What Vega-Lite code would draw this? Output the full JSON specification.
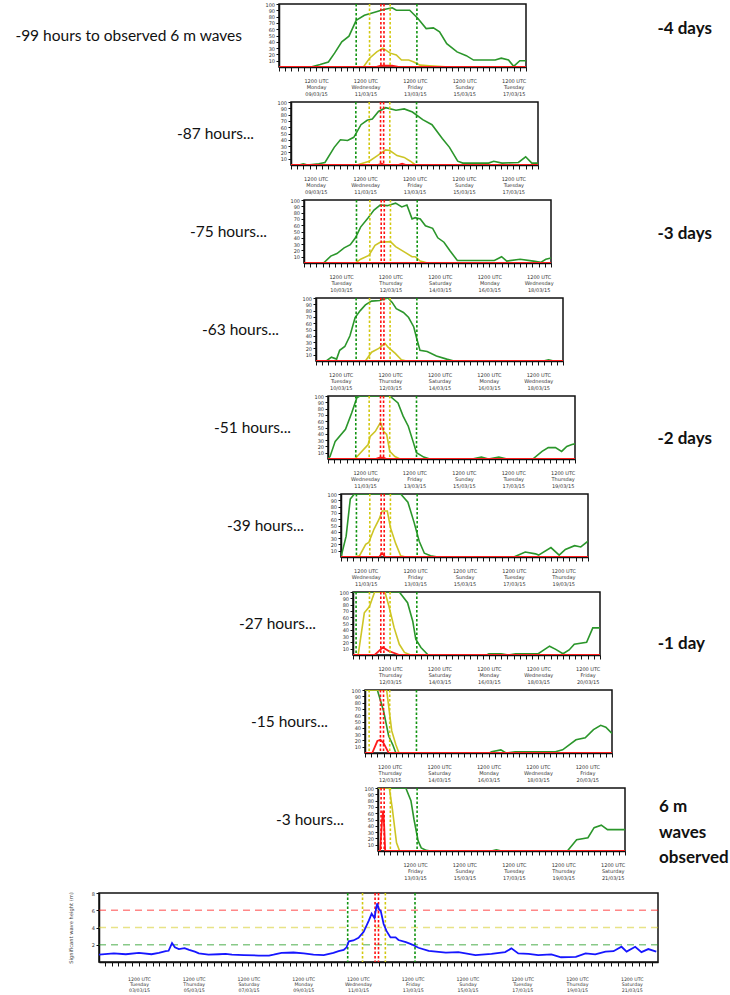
{
"$schema": "https://vega.github.io/schema/vega-lite/v6.json",
"padding": {"left": 0, "top": 1, "right": 0, "bottom": 0},
"background": "white",
"spacing": 1,
"config": {
 "view": {"stroke": "#111", "strokeWidth": 1.5},
 "axis": {"labelFont": "DejaVu Sans", "labelFontSize": 5, "labelColor": "#333", "tickColor": "#111", "domainColor": "#111", "domainWidth": 1.5, "tickWidth": 1, "grid": false, "titleFont": "DejaVu Sans", "labelOverlap": false},
 "axisX": {"tickSize": 4, "labelPadding": 7, "labelLineHeight": 6.8, "labelFlush": false, "labelAngle": 0},
 "axisY": {"tickSize": 3, "labelPadding": 1.5, "labelOverlap": false},
 "text": {"font": "Lato"}
},
"datasets": {
 "thr": [{"s":"g","t":"2015-03-11T03:00Z"},{"s":"y","t":"2015-03-11T16:00Z"},{"s":"r","t":"2015-03-12T03:00Z"},{"s":"r","t":"2015-03-12T06:00Z"},{"s":"y","t":"2015-03-12T12:00Z"},{"s":"g","t":"2015-03-13T14:00Z"}],
 "hl": [{"s":"g","v":2},{"s":"y","v":4},{"s":"r","v":6}],
 "p1": [
  {"s":"g","t":"2015-03-09T07:00Z","v":0},{"s":"g","t":"2015-03-09T16:00Z","v":4},{"s":"g","t":"2015-03-10T00:00Z","v":8},{"s":"g","t":"2015-03-10T06:00Z","v":22},{"s":"g","t":"2015-03-10T13:00Z","v":40},{"s":"g","t":"2015-03-10T20:00Z","v":49},{"s":"g","t":"2015-03-11T03:00Z","v":74},{"s":"g","t":"2015-03-11T11:00Z","v":82},{"s":"g","t":"2015-03-11T21:00Z","v":87},{"s":"g","t":"2015-03-12T05:00Z","v":91},{"s":"g","t":"2015-03-12T14:00Z","v":94},{"s":"g","t":"2015-03-12T18:00Z","v":90},{"s":"g","t":"2015-03-13T07:00Z","v":90},{"s":"g","t":"2015-03-13T15:00Z","v":77},{"s":"g","t":"2015-03-13T23:00Z","v":61},{"s":"g","t":"2015-03-14T06:00Z","v":62},{"s":"g","t":"2015-03-14T12:00Z","v":56},{"s":"g","t":"2015-03-14T19:00Z","v":37},{"s":"g","t":"2015-03-15T05:00Z","v":24},{"s":"g","t":"2015-03-15T14:00Z","v":18},{"s":"g","t":"2015-03-15T21:00Z","v":11},{"s":"g","t":"2015-03-16T18:00Z","v":11},{"s":"g","t":"2015-03-17T00:00Z","v":14},{"s":"g","t":"2015-03-17T07:00Z","v":11},{"s":"g","t":"2015-03-17T12:00Z","v":1},{"s":"g","t":"2015-03-17T18:00Z","v":10},{"s":"g","t":"2015-03-18T00:00Z","v":10},
  {"s":"y","t":"2015-03-11T10:00Z","v":0},{"s":"y","t":"2015-03-11T16:00Z","v":14},{"s":"y","t":"2015-03-11T23:00Z","v":24},{"s":"y","t":"2015-03-12T05:00Z","v":30},{"s":"y","t":"2015-03-12T12:00Z","v":22},{"s":"y","t":"2015-03-12T18:00Z","v":19},{"s":"y","t":"2015-03-12T23:00Z","v":11},{"s":"y","t":"2015-03-13T06:00Z","v":11},{"s":"y","t":"2015-03-13T11:00Z","v":8},{"s":"y","t":"2015-03-13T17:00Z","v":3},{"s":"y","t":"2015-03-14T02:00Z","v":2},{"s":"y","t":"2015-03-14T22:00Z","v":0},
  {"s":"r","t":"2015-03-08T00:00Z","v":0},{"s":"r","t":"2015-03-11T22:00Z","v":0},{"s":"r","t":"2015-03-12T03:00Z","v":2},{"s":"r","t":"2015-03-12T14:00Z","v":2},{"s":"r","t":"2015-03-12T20:00Z","v":0},{"s":"r","t":"2015-03-18T00:00Z","v":0}
 ],
 "p2": [
  {"s":"g","t":"2015-03-08T12:00Z","v":0},{"s":"g","t":"2015-03-08T20:00Z","v":0},{"s":"g","t":"2015-03-09T00:00Z","v":2},{"s":"g","t":"2015-03-09T04:00Z","v":0},{"s":"g","t":"2015-03-09T15:00Z","v":2},{"s":"g","t":"2015-03-09T21:00Z","v":4},{"s":"g","t":"2015-03-10T06:00Z","v":28},{"s":"g","t":"2015-03-10T12:00Z","v":40},{"s":"g","t":"2015-03-10T19:00Z","v":39},{"s":"g","t":"2015-03-11T01:00Z","v":44},{"s":"g","t":"2015-03-11T08:00Z","v":64},{"s":"g","t":"2015-03-11T14:00Z","v":71},{"s":"g","t":"2015-03-11T19:00Z","v":73},{"s":"g","t":"2015-03-12T01:00Z","v":85},{"s":"g","t":"2015-03-12T08:00Z","v":91},{"s":"g","t":"2015-03-12T18:00Z","v":87},{"s":"g","t":"2015-03-13T02:00Z","v":89},{"s":"g","t":"2015-03-13T10:00Z","v":84},{"s":"g","t":"2015-03-13T20:00Z","v":72},{"s":"g","t":"2015-03-14T05:00Z","v":64},{"s":"g","t":"2015-03-14T15:00Z","v":42},{"s":"g","t":"2015-03-14T22:00Z","v":28},{"s":"g","t":"2015-03-15T06:00Z","v":6},{"s":"g","t":"2015-03-15T11:00Z","v":3},{"s":"g","t":"2015-03-16T12:00Z","v":3},{"s":"g","t":"2015-03-16T17:00Z","v":6},{"s":"g","t":"2015-03-17T01:00Z","v":3},{"s":"g","t":"2015-03-17T17:00Z","v":4},{"s":"g","t":"2015-03-18T00:00Z","v":13},{"s":"g","t":"2015-03-18T06:00Z","v":3},{"s":"g","t":"2015-03-18T12:00Z","v":3},
  {"s":"y","t":"2015-03-11T04:00Z","v":0},{"s":"y","t":"2015-03-11T16:00Z","v":6},{"s":"y","t":"2015-03-12T00:00Z","v":15},{"s":"y","t":"2015-03-12T08:00Z","v":24},{"s":"y","t":"2015-03-12T12:00Z","v":23},{"s":"y","t":"2015-03-12T19:00Z","v":15},{"s":"y","t":"2015-03-13T02:00Z","v":12},{"s":"y","t":"2015-03-13T08:00Z","v":6},{"s":"y","t":"2015-03-13T13:00Z","v":0},
  {"s":"r","t":"2015-03-08T12:00Z","v":0},{"s":"r","t":"2015-03-12T00:00Z","v":0},{"s":"r","t":"2015-03-12T04:00Z","v":2},{"s":"r","t":"2015-03-12T08:00Z","v":0},{"s":"r","t":"2015-03-12T20:00Z","v":0},{"s":"r","t":"2015-03-13T00:00Z","v":2},{"s":"r","t":"2015-03-13T04:00Z","v":0},{"s":"r","t":"2015-03-18T12:00Z","v":0}
 ],
 "p3": [
  {"s":"g","t":"2015-03-09T19:00Z","v":0},{"s":"g","t":"2015-03-10T02:00Z","v":11},{"s":"g","t":"2015-03-10T08:00Z","v":15},{"s":"g","t":"2015-03-10T15:00Z","v":24},{"s":"g","t":"2015-03-10T21:00Z","v":29},{"s":"g","t":"2015-03-11T02:00Z","v":40},{"s":"g","t":"2015-03-11T07:00Z","v":57},{"s":"g","t":"2015-03-11T14:00Z","v":71},{"s":"g","t":"2015-03-11T20:00Z","v":84},{"s":"g","t":"2015-03-12T02:00Z","v":92},{"s":"g","t":"2015-03-12T09:00Z","v":91},{"s":"g","t":"2015-03-12T17:00Z","v":95},{"s":"g","t":"2015-03-12T23:00Z","v":89},{"s":"g","t":"2015-03-13T04:00Z","v":92},{"s":"g","t":"2015-03-13T09:00Z","v":70},{"s":"g","t":"2015-03-13T12:00Z","v":72},{"s":"g","t":"2015-03-13T17:00Z","v":70},{"s":"g","t":"2015-03-13T22:00Z","v":59},{"s":"g","t":"2015-03-14T05:00Z","v":55},{"s":"g","t":"2015-03-14T10:00Z","v":40},{"s":"g","t":"2015-03-14T16:00Z","v":33},{"s":"g","t":"2015-03-14T22:00Z","v":19},{"s":"g","t":"2015-03-15T05:00Z","v":4},{"s":"g","t":"2015-03-16T17:00Z","v":4},{"s":"g","t":"2015-03-17T00:00Z","v":10},{"s":"g","t":"2015-03-17T05:00Z","v":3},{"s":"g","t":"2015-03-17T18:00Z","v":6},{"s":"g","t":"2015-03-18T07:00Z","v":3},{"s":"g","t":"2015-03-18T14:00Z","v":1},{"s":"g","t":"2015-03-18T19:00Z","v":6},{"s":"g","t":"2015-03-19T00:00Z","v":8},
  {"s":"y","t":"2015-03-11T02:00Z","v":0},{"s":"y","t":"2015-03-11T07:00Z","v":6},{"s":"y","t":"2015-03-11T15:00Z","v":12},{"s":"y","t":"2015-03-11T21:00Z","v":28},{"s":"y","t":"2015-03-12T02:00Z","v":33},{"s":"y","t":"2015-03-12T12:00Z","v":34},{"s":"y","t":"2015-03-12T17:00Z","v":26},{"s":"y","t":"2015-03-13T03:00Z","v":16},{"s":"y","t":"2015-03-13T09:00Z","v":10},{"s":"y","t":"2015-03-13T12:00Z","v":10},{"s":"y","t":"2015-03-13T17:00Z","v":3},{"s":"y","t":"2015-03-14T00:00Z","v":0},
  {"s":"r","t":"2015-03-09T00:00Z","v":0},{"s":"r","t":"2015-03-19T00:00Z","v":0}
 ],
 "p4": [
  {"s":"g","t":"2015-03-09T22:00Z","v":0},{"s":"g","t":"2015-03-10T03:00Z","v":6},{"s":"g","t":"2015-03-10T08:00Z","v":3},{"s":"g","t":"2015-03-10T11:00Z","v":17},{"s":"g","t":"2015-03-10T16:00Z","v":23},{"s":"g","t":"2015-03-10T21:00Z","v":40},{"s":"g","t":"2015-03-11T02:00Z","v":69},{"s":"g","t":"2015-03-11T07:00Z","v":80},{"s":"g","t":"2015-03-11T12:00Z","v":89},{"s":"g","t":"2015-03-11T18:00Z","v":95},{"s":"g","t":"2015-03-12T02:00Z","v":96},{"s":"g","t":"2015-03-12T07:00Z","v":99},{"s":"g","t":"2015-03-12T10:00Z","v":100},{"s":"g","t":"2015-03-12T14:00Z","v":93},{"s":"g","t":"2015-03-12T18:00Z","v":83},{"s":"g","t":"2015-03-13T01:00Z","v":77},{"s":"g","t":"2015-03-13T06:00Z","v":69},{"s":"g","t":"2015-03-13T11:00Z","v":54},{"s":"g","t":"2015-03-13T14:00Z","v":35},{"s":"g","t":"2015-03-13T17:00Z","v":17},{"s":"g","t":"2015-03-14T00:00Z","v":15},{"s":"g","t":"2015-03-14T09:00Z","v":8},{"s":"g","t":"2015-03-14T19:00Z","v":3},{"s":"g","t":"2015-03-15T02:00Z","v":0},{"s":"g","t":"2015-03-18T17:00Z","v":0},{"s":"g","t":"2015-03-18T22:00Z","v":2},{"s":"g","t":"2015-03-19T03:00Z","v":0},
  {"s":"y","t":"2015-03-11T12:00Z","v":0},{"s":"y","t":"2015-03-11T18:00Z","v":14},{"s":"y","t":"2015-03-12T01:00Z","v":20},{"s":"y","t":"2015-03-12T07:00Z","v":28},{"s":"y","t":"2015-03-12T10:00Z","v":22},{"s":"y","t":"2015-03-12T17:00Z","v":12},{"s":"y","t":"2015-03-12T23:00Z","v":2},{"s":"y","t":"2015-03-13T04:00Z","v":0},
  {"s":"r","t":"2015-03-09T12:00Z","v":0},{"s":"r","t":"2015-03-19T12:00Z","v":0}
 ],
 "p5": [
  {"s":"g","t":"2015-03-10T00:00Z","v":0},{"s":"g","t":"2015-03-10T02:00Z","v":4},{"s":"g","t":"2015-03-10T07:00Z","v":28},{"s":"g","t":"2015-03-10T17:00Z","v":47},{"s":"g","t":"2015-03-10T23:00Z","v":73},{"s":"g","t":"2015-03-11T04:00Z","v":97},{"s":"g","t":"2015-03-11T07:00Z","v":100},{"s":"g","t":"2015-03-12T12:00Z","v":100},{"s":"g","t":"2015-03-12T20:00Z","v":89},{"s":"g","t":"2015-03-13T01:00Z","v":68},{"s":"g","t":"2015-03-13T06:00Z","v":52},{"s":"g","t":"2015-03-13T11:00Z","v":26},{"s":"g","t":"2015-03-13T14:00Z","v":10},{"s":"g","t":"2015-03-13T21:00Z","v":3},{"s":"g","t":"2015-03-14T03:00Z","v":0},{"s":"g","t":"2015-03-15T20:00Z","v":0},{"s":"g","t":"2015-03-16T05:00Z","v":3},{"s":"g","t":"2015-03-16T12:00Z","v":0},{"s":"g","t":"2015-03-16T22:00Z","v":3},{"s":"g","t":"2015-03-17T06:00Z","v":0},{"s":"g","t":"2015-03-18T07:00Z","v":0},{"s":"g","t":"2015-03-18T16:00Z","v":12},{"s":"g","t":"2015-03-18T22:00Z","v":18},{"s":"g","t":"2015-03-19T05:00Z","v":18},{"s":"g","t":"2015-03-19T11:00Z","v":12},{"s":"g","t":"2015-03-19T16:00Z","v":20},{"s":"g","t":"2015-03-19T21:00Z","v":23},{"s":"g","t":"2015-03-20T00:00Z","v":24},
  {"s":"y","t":"2015-03-11T02:00Z","v":0},{"s":"y","t":"2015-03-11T15:00Z","v":23},{"s":"y","t":"2015-03-11T17:00Z","v":36},{"s":"y","t":"2015-03-11T22:00Z","v":44},{"s":"y","t":"2015-03-12T03:00Z","v":58},{"s":"y","t":"2015-03-12T06:00Z","v":44},{"s":"y","t":"2015-03-12T09:00Z","v":39},{"s":"y","t":"2015-03-12T12:00Z","v":12},{"s":"y","t":"2015-03-12T17:00Z","v":4},{"s":"y","t":"2015-03-12T22:00Z","v":0},
  {"s":"r","t":"2015-03-10T00:00Z","v":0},{"s":"r","t":"2015-03-11T22:00Z","v":0},{"s":"r","t":"2015-03-12T02:00Z","v":2},{"s":"r","t":"2015-03-12T06:00Z","v":2},{"s":"r","t":"2015-03-12T09:00Z","v":0},{"s":"r","t":"2015-03-20T00:00Z","v":0}
 ],
 "p6": [
  {"s":"g","t":"2015-03-10T12:00Z","v":0},{"s":"g","t":"2015-03-10T17:00Z","v":33},{"s":"g","t":"2015-03-10T21:00Z","v":92},{"s":"g","t":"2015-03-11T01:00Z","v":100},{"s":"g","t":"2015-03-12T22:00Z","v":100},{"s":"g","t":"2015-03-13T05:00Z","v":87},{"s":"g","t":"2015-03-13T11:00Z","v":55},{"s":"g","t":"2015-03-13T16:00Z","v":25},{"s":"g","t":"2015-03-13T21:00Z","v":6},{"s":"g","t":"2015-03-14T03:00Z","v":2},{"s":"g","t":"2015-03-14T10:00Z","v":0},{"s":"g","t":"2015-03-17T12:00Z","v":0},{"s":"g","t":"2015-03-17T23:00Z","v":8},{"s":"g","t":"2015-03-18T09:00Z","v":5},{"s":"g","t":"2015-03-18T12:00Z","v":3},{"s":"g","t":"2015-03-19T00:00Z","v":15},{"s":"g","t":"2015-03-19T08:00Z","v":3},{"s":"g","t":"2015-03-19T14:00Z","v":12},{"s":"g","t":"2015-03-19T23:00Z","v":18},{"s":"g","t":"2015-03-20T05:00Z","v":16},{"s":"g","t":"2015-03-20T12:00Z","v":25},
  {"s":"y","t":"2015-03-11T00:00Z","v":0},{"s":"y","t":"2015-03-11T06:00Z","v":2},{"s":"y","t":"2015-03-11T12:00Z","v":20},{"s":"y","t":"2015-03-11T15:00Z","v":23},{"s":"y","t":"2015-03-11T20:00Z","v":44},{"s":"y","t":"2015-03-12T01:00Z","v":60},{"s":"y","t":"2015-03-12T04:00Z","v":73},{"s":"y","t":"2015-03-12T09:00Z","v":73},{"s":"y","t":"2015-03-12T12:00Z","v":47},{"s":"y","t":"2015-03-12T17:00Z","v":22},{"s":"y","t":"2015-03-12T22:00Z","v":2},{"s":"y","t":"2015-03-13T03:00Z","v":0},
  {"s":"r","t":"2015-03-10T12:00Z","v":0},{"s":"r","t":"2015-03-12T01:00Z","v":0},{"s":"r","t":"2015-03-12T04:00Z","v":6},{"s":"r","t":"2015-03-12T07:00Z","v":0},{"s":"r","t":"2015-03-20T12:00Z","v":0}
 ],
 "p7": [
  {"s":"g","t":"2015-03-11T00:00Z","v":100},{"s":"g","t":"2015-03-12T21:00Z","v":100},{"s":"g","t":"2015-03-13T05:00Z","v":83},{"s":"g","t":"2015-03-13T10:00Z","v":54},{"s":"g","t":"2015-03-13T13:00Z","v":25},{"s":"g","t":"2015-03-13T18:00Z","v":12},{"s":"g","t":"2015-03-14T01:00Z","v":0},{"s":"g","t":"2015-03-16T10:00Z","v":0},{"s":"g","t":"2015-03-16T12:00Z","v":2},{"s":"g","t":"2015-03-17T00:00Z","v":2},{"s":"g","t":"2015-03-17T07:00Z","v":0},{"s":"g","t":"2015-03-17T14:00Z","v":2},{"s":"g","t":"2015-03-18T12:00Z","v":2},{"s":"g","t":"2015-03-18T23:00Z","v":14},{"s":"g","t":"2015-03-19T05:00Z","v":9},{"s":"g","t":"2015-03-19T12:00Z","v":2},{"s":"g","t":"2015-03-19T18:00Z","v":8},{"s":"g","t":"2015-03-19T23:00Z","v":17},{"s":"g","t":"2015-03-20T11:00Z","v":20},{"s":"g","t":"2015-03-20T17:00Z","v":43},{"s":"g","t":"2015-03-21T00:00Z","v":43},
  {"s":"y","t":"2015-03-11T05:00Z","v":0},{"s":"y","t":"2015-03-11T11:00Z","v":67},{"s":"y","t":"2015-03-11T16:00Z","v":77},{"s":"y","t":"2015-03-11T21:00Z","v":100},{"s":"y","t":"2015-03-12T07:00Z","v":100},{"s":"y","t":"2015-03-12T11:00Z","v":77},{"s":"y","t":"2015-03-12T16:00Z","v":43},{"s":"y","t":"2015-03-12T21:00Z","v":17},{"s":"y","t":"2015-03-13T02:00Z","v":4},{"s":"y","t":"2015-03-13T08:00Z","v":0},
  {"s":"r","t":"2015-03-11T00:00Z","v":0},{"s":"r","t":"2015-03-11T21:00Z","v":0},{"s":"r","t":"2015-03-12T05:00Z","v":12},{"s":"r","t":"2015-03-12T11:00Z","v":6},{"s":"r","t":"2015-03-12T18:00Z","v":2},{"s":"r","t":"2015-03-12T21:00Z","v":0},{"s":"r","t":"2015-03-21T00:00Z","v":0}
 ],
 "p8": [
  {"s":"g","t":"2015-03-11T12:00Z","v":100},{"s":"g","t":"2015-03-12T00:00Z","v":100},{"s":"g","t":"2015-03-12T06:00Z","v":67},{"s":"g","t":"2015-03-12T11:00Z","v":27},{"s":"g","t":"2015-03-12T15:00Z","v":13},{"s":"g","t":"2015-03-12T18:00Z","v":0},{"s":"g","t":"2015-03-16T13:00Z","v":0},{"s":"g","t":"2015-03-16T15:00Z","v":2},{"s":"g","t":"2015-03-17T00:00Z","v":5},{"s":"g","t":"2015-03-17T05:00Z","v":0},{"s":"g","t":"2015-03-17T14:00Z","v":2},{"s":"g","t":"2015-03-19T05:00Z","v":2},{"s":"g","t":"2015-03-19T12:00Z","v":5},{"s":"g","t":"2015-03-20T01:00Z","v":21},{"s":"g","t":"2015-03-20T10:00Z","v":24},{"s":"g","t":"2015-03-20T18:00Z","v":37},{"s":"g","t":"2015-03-21T01:00Z","v":44},{"s":"g","t":"2015-03-21T06:00Z","v":41},{"s":"g","t":"2015-03-21T12:00Z","v":31},
  {"s":"y","t":"2015-03-11T12:00Z","v":100},{"s":"y","t":"2015-03-12T09:00Z","v":100},{"s":"y","t":"2015-03-12T14:00Z","v":35},{"s":"y","t":"2015-03-12T18:00Z","v":13},{"s":"y","t":"2015-03-12T21:00Z","v":0},
  {"s":"r","t":"2015-03-11T12:00Z","v":0},{"s":"r","t":"2015-03-11T19:00Z","v":0},{"s":"r","t":"2015-03-12T00:00Z","v":19},{"s":"r","t":"2015-03-12T03:00Z","v":21},{"s":"r","t":"2015-03-12T06:00Z","v":16},{"s":"r","t":"2015-03-12T11:00Z","v":0},{"s":"r","t":"2015-03-21T12:00Z","v":0}
 ],
 "p9": [
  {"s":"g","t":"2015-03-12T00:00Z","v":100},{"s":"g","t":"2015-03-13T03:00Z","v":100},{"s":"g","t":"2015-03-13T08:00Z","v":80},{"s":"g","t":"2015-03-13T11:00Z","v":50},{"s":"g","t":"2015-03-13T15:00Z","v":16},{"s":"g","t":"2015-03-13T18:00Z","v":5},{"s":"g","t":"2015-03-13T23:00Z","v":1},{"s":"g","t":"2015-03-14T03:00Z","v":0},{"s":"g","t":"2015-03-16T14:00Z","v":0},{"s":"g","t":"2015-03-16T19:00Z","v":2},{"s":"g","t":"2015-03-17T00:00Z","v":0},{"s":"g","t":"2015-03-19T16:00Z","v":0},{"s":"g","t":"2015-03-20T01:00Z","v":18},{"s":"g","t":"2015-03-20T12:00Z","v":21},{"s":"g","t":"2015-03-20T18:00Z","v":37},{"s":"g","t":"2015-03-21T01:00Z","v":41},{"s":"g","t":"2015-03-21T07:00Z","v":34},{"s":"g","t":"2015-03-22T00:00Z","v":34},
  {"s":"y","t":"2015-03-12T00:00Z","v":100},{"s":"y","t":"2015-03-12T11:00Z","v":100},{"s":"y","t":"2015-03-12T14:00Z","v":66},{"s":"y","t":"2015-03-12T18:00Z","v":13},{"s":"y","t":"2015-03-12T21:00Z","v":0},
  {"s":"r","t":"2015-03-12T00:00Z","v":0},{"s":"r","t":"2015-03-12T02:00Z","v":0},{"s":"r","t":"2015-03-12T04:00Z","v":50},{"s":"r","t":"2015-03-12T05:00Z","v":64},{"s":"r","t":"2015-03-12T06:00Z","v":40},{"s":"r","t":"2015-03-12T07:00Z","v":0},{"s":"r","t":"2015-03-22T00:00Z","v":0}
 ],
 "wave": [
  {"t":"2015-03-02T00:00Z","v":0.85},{"t":"2015-03-02T14:00Z","v":1.0},{"t":"2015-03-03T00:30Z","v":0.9},{"t":"2015-03-03T12:00Z","v":1.05},{"t":"2015-03-03T23:00Z","v":0.9},{"t":"2015-03-04T05:30Z","v":1.05},{"t":"2015-03-04T11:30Z","v":1.25},{"t":"2015-03-04T14:00Z","v":1.3},{"t":"2015-03-04T17:00Z","v":2.2},{"t":"2015-03-04T19:30Z","v":1.7},{"t":"2015-03-04T23:00Z","v":1.5},{"t":"2015-03-05T04:00Z","v":1.6},{"t":"2015-03-05T08:00Z","v":1.4},{"t":"2015-03-05T13:00Z","v":1.2},{"t":"2015-03-05T16:30Z","v":1.0},{"t":"2015-03-06T01:00Z","v":0.85},{"t":"2015-03-06T10:00Z","v":0.9},{"t":"2015-03-06T16:00Z","v":0.95},{"t":"2015-03-06T21:30Z","v":0.85},{"t":"2015-03-07T08:00Z","v":0.8},{"t":"2015-03-07T21:00Z","v":0.75},{"t":"2015-03-08T06:00Z","v":0.75},{"t":"2015-03-08T10:00Z","v":0.85},{"t":"2015-03-08T17:00Z","v":1.05},{"t":"2015-03-09T03:30Z","v":1.1},{"t":"2015-03-09T12:30Z","v":1.0},{"t":"2015-03-09T21:00Z","v":0.85},{"t":"2015-03-10T06:00Z","v":0.8},{"t":"2015-03-10T14:30Z","v":1.05},{"t":"2015-03-10T19:00Z","v":1.25},{"t":"2015-03-10T23:30Z","v":1.4},{"t":"2015-03-11T02:00Z","v":1.7},{"t":"2015-03-11T04:00Z","v":2.4},{"t":"2015-03-11T08:00Z","v":2.5},{"t":"2015-03-11T12:30Z","v":2.8},{"t":"2015-03-11T17:00Z","v":3.5},{"t":"2015-03-11T21:30Z","v":4.8},{"t":"2015-03-12T00:00Z","v":5.6},{"t":"2015-03-12T02:30Z","v":5.1},{"t":"2015-03-12T04:00Z","v":6.3},{"t":"2015-03-12T05:00Z","v":6.8},{"t":"2015-03-12T06:00Z","v":6.2},{"t":"2015-03-12T08:00Z","v":5.9},{"t":"2015-03-12T10:30Z","v":4.4},{"t":"2015-03-12T13:00Z","v":3.6},{"t":"2015-03-12T16:30Z","v":2.85},{"t":"2015-03-12T21:00Z","v":2.85},{"t":"2015-03-12T23:30Z","v":2.55},{"t":"2015-03-13T06:00Z","v":2.3},{"t":"2015-03-13T11:00Z","v":2.05},{"t":"2015-03-13T17:00Z","v":1.65},{"t":"2015-03-14T02:00Z","v":1.3},{"t":"2015-03-14T17:00Z","v":1.08},{"t":"2015-03-15T04:00Z","v":1.15},{"t":"2015-03-15T19:00Z","v":0.8},{"t":"2015-03-16T09:00Z","v":0.95},{"t":"2015-03-16T21:00Z","v":1.15},{"t":"2015-03-17T02:30Z","v":1.58},{"t":"2015-03-17T08:30Z","v":1.0},{"t":"2015-03-17T17:30Z","v":0.95},{"t":"2015-03-18T02:00Z","v":0.8},{"t":"2015-03-18T13:30Z","v":0.88},{"t":"2015-03-18T22:00Z","v":0.55},{"t":"2015-03-19T11:00Z","v":0.6},{"t":"2015-03-19T19:30Z","v":1.0},{"t":"2015-03-20T04:00Z","v":0.88},{"t":"2015-03-20T13:00Z","v":1.2},{"t":"2015-03-20T20:00Z","v":1.25},{"t":"2015-03-21T03:00Z","v":1.77},{"t":"2015-03-21T07:30Z","v":1.2},{"t":"2015-03-21T15:00Z","v":1.77},{"t":"2015-03-21T20:30Z","v":1.15},{"t":"2015-03-22T02:30Z","v":1.5},{"t":"2015-03-22T09:30Z","v":1.2}
 ]
},
"vconcat": [
 {"hconcat": [
   {"width": 242, "height": 63, "view": {"stroke": null}, "data": {"values": [{"label": "-99 hours to observed 6 m waves"}]}, "mark": {"type": "text", "align": "right", "baseline": "middle", "fontSize": 15.5, "color": "#111"}, "encoding": {"text": {"field": "label"}, "x": {"value": "width"}}},
   {"width": 247, "height": 63, "data": {"name": "p1"},
    "encoding": {"x": {"field": "t", "type": "temporal", "title": null, "scale": {"type": "utc", "nice": false, "domain": [{"year": 2015, "month": 3, "date": 8, "hours": 0, "utc": true}, {"year": 2015, "month": 3, "date": 18, "hours": 0, "utc": true}]}, "axis": {"tickCount": 40, "labelExpr": "utchours(datum.value) == 12 && utcdate(datum.value) % 2 == 1 ? [utcFormat(datum.value, '%H%M UTC'), utcFormat(datum.value, '%A'), utcFormat(datum.value, '%d/%m/%y')] : ''"}}},
    "layer": [
     {"transform": [{"filter": "datum.s == 'g'"}], "mark": {"type": "line", "color": "#2b962b", "strokeWidth": 1.6, "clip": true}, "encoding": {"y": {"field": "v", "type": "quantitative", "title": null, "scale": {"domain": [0, 100], "nice": false}, "axis": {"values": [10, 20, 30, 40, 50, 60, 70, 80, 90, 100], "tickCount": 10, "labelOverlap": false}}}},
     {"transform": [{"filter": "datum.s == 'y'"}], "mark": {"type": "line", "color": "#cdc526", "strokeWidth": 1.6, "clip": true}, "encoding": {"y": {"field": "v", "type": "quantitative", "title": null}}},
     {"transform": [{"filter": "datum.s == 'r'"}], "mark": {"type": "line", "color": "#ff1c1c", "strokeWidth": 1.8, "clip": true}, "encoding": {"y": {"field": "v", "type": "quantitative", "title": null}}},
     {"data": {"name": "thr"}, "mark": {"type": "rule", "strokeDash": [2.5, 2], "strokeWidth": 1.6, "clip": true}, "encoding": {"color": {"field": "s", "type": "nominal", "scale": {"domain": ["g", "y", "r"], "range": ["#119411", "#d2c810", "#ff1010"]}, "legend": null}}}
    ]},
   {"width": 149, "height": 63, "view": {"stroke": null}, "data": {"values": [{"label": "-4 days"}]}, "mark": {"type": "text", "align": "right", "baseline": "middle", "fontSize": 17, "fontWeight": "bold", "dy": -6.5, "color": "#111"}, "encoding": {"text": {"field": "label"}, "x": {"value": "width"}}}
  ], "spacing": 37, "bounds": "flush"},
 {"hconcat": [
   {"width": 254, "height": 63, "view": {"stroke": null}, "data": {"values": [{"label": "-87 hours..."}]}, "mark": {"type": "text", "align": "right", "baseline": "middle", "fontSize": 15.5, "color": "#111"}, "encoding": {"text": {"field": "label"}, "x": {"value": "width"}}},
   {"width": 247, "height": 63, "data": {"name": "p2"},
    "encoding": {"x": {"field": "t", "type": "temporal", "title": null, "scale": {"type": "utc", "nice": false, "domain": [{"year": 2015, "month": 3, "date": 8, "hours": 12, "utc": true}, {"year": 2015, "month": 3, "date": 18, "hours": 12, "utc": true}]}, "axis": {"tickCount": 40, "labelExpr": "utchours(datum.value) == 12 && utcdate(datum.value) % 2 == 1 ? [utcFormat(datum.value, '%H%M UTC'), utcFormat(datum.value, '%A'), utcFormat(datum.value, '%d/%m/%y')] : ''"}}},
    "layer": [
     {"transform": [{"filter": "datum.s == 'g'"}], "mark": {"type": "line", "color": "#2b962b", "strokeWidth": 1.6, "clip": true}, "encoding": {"y": {"field": "v", "type": "quantitative", "title": null, "scale": {"domain": [0, 100], "nice": false}, "axis": {"values": [10, 20, 30, 40, 50, 60, 70, 80, 90, 100], "tickCount": 10, "labelOverlap": false}}}},
     {"transform": [{"filter": "datum.s == 'y'"}], "mark": {"type": "line", "color": "#cdc526", "strokeWidth": 1.6, "clip": true}, "encoding": {"y": {"field": "v", "type": "quantitative", "title": null}}},
     {"transform": [{"filter": "datum.s == 'r'"}], "mark": {"type": "line", "color": "#ff1c1c", "strokeWidth": 1.8, "clip": true}, "encoding": {"y": {"field": "v", "type": "quantitative", "title": null}}},
     {"data": {"name": "thr"}, "mark": {"type": "rule", "strokeDash": [2.5, 2], "strokeWidth": 1.6, "clip": true}, "encoding": {"color": {"field": "s", "type": "nominal", "scale": {"domain": ["g", "y", "r"], "range": ["#119411", "#d2c810", "#ff1010"]}, "legend": null}}}
    ]}
  ], "spacing": 37, "bounds": "flush"},
 {"hconcat": [
   {"width": 267, "height": 63, "view": {"stroke": null}, "data": {"values": [{"label": "-75 hours..."}]}, "mark": {"type": "text", "align": "right", "baseline": "middle", "fontSize": 15.5, "color": "#111"}, "encoding": {"text": {"field": "label"}, "x": {"value": "width"}}},
   {"width": 247, "height": 63, "data": {"name": "p3"},
    "encoding": {"x": {"field": "t", "type": "temporal", "title": null, "scale": {"type": "utc", "nice": false, "domain": [{"year": 2015, "month": 3, "date": 9, "hours": 0, "utc": true}, {"year": 2015, "month": 3, "date": 19, "hours": 0, "utc": true}]}, "axis": {"tickCount": 40, "labelExpr": "utchours(datum.value) == 12 && utcdate(datum.value) % 2 == 0 ? [utcFormat(datum.value, '%H%M UTC'), utcFormat(datum.value, '%A'), utcFormat(datum.value, '%d/%m/%y')] : ''"}}},
    "layer": [
     {"transform": [{"filter": "datum.s == 'g'"}], "mark": {"type": "line", "color": "#2b962b", "strokeWidth": 1.6, "clip": true}, "encoding": {"y": {"field": "v", "type": "quantitative", "title": null, "scale": {"domain": [0, 100], "nice": false}, "axis": {"values": [10, 20, 30, 40, 50, 60, 70, 80, 90, 100], "tickCount": 10, "labelOverlap": false}}}},
     {"transform": [{"filter": "datum.s == 'y'"}], "mark": {"type": "line", "color": "#cdc526", "strokeWidth": 1.6, "clip": true}, "encoding": {"y": {"field": "v", "type": "quantitative", "title": null}}},
     {"transform": [{"filter": "datum.s == 'r'"}], "mark": {"type": "line", "color": "#ff1c1c", "strokeWidth": 1.8, "clip": true}, "encoding": {"y": {"field": "v", "type": "quantitative", "title": null}}},
     {"data": {"name": "thr"}, "mark": {"type": "rule", "strokeDash": [2.5, 2], "strokeWidth": 1.6, "clip": true}, "encoding": {"color": {"field": "s", "type": "nominal", "scale": {"domain": ["g", "y", "r"], "range": ["#119411", "#d2c810", "#ff1010"]}, "legend": null}}}
    ]},
   {"width": 124, "height": 63, "view": {"stroke": null}, "data": {"values": [{"label": "-3 days"}]}, "mark": {"type": "text", "align": "right", "baseline": "middle", "fontSize": 17, "fontWeight": "bold", "dy": 2.5, "color": "#111"}, "encoding": {"text": {"field": "label"}, "x": {"value": "width"}}}
  ], "spacing": 37, "bounds": "flush"},
 {"hconcat": [
   {"width": 279, "height": 63, "view": {"stroke": null}, "data": {"values": [{"label": "-63 hours..."}]}, "mark": {"type": "text", "align": "right", "baseline": "middle", "fontSize": 15.5, "color": "#111"}, "encoding": {"text": {"field": "label"}, "x": {"value": "width"}}},
   {"width": 247, "height": 63, "data": {"name": "p4"},
    "encoding": {"x": {"field": "t", "type": "temporal", "title": null, "scale": {"type": "utc", "nice": false, "domain": [{"year": 2015, "month": 3, "date": 9, "hours": 12, "utc": true}, {"year": 2015, "month": 3, "date": 19, "hours": 12, "utc": true}]}, "axis": {"tickCount": 40, "labelExpr": "utchours(datum.value) == 12 && utcdate(datum.value) % 2 == 0 ? [utcFormat(datum.value, '%H%M UTC'), utcFormat(datum.value, '%A'), utcFormat(datum.value, '%d/%m/%y')] : ''"}}},
    "layer": [
     {"transform": [{"filter": "datum.s == 'g'"}], "mark": {"type": "line", "color": "#2b962b", "strokeWidth": 1.6, "clip": true}, "encoding": {"y": {"field": "v", "type": "quantitative", "title": null, "scale": {"domain": [0, 100], "nice": false}, "axis": {"values": [10, 20, 30, 40, 50, 60, 70, 80, 90, 100], "tickCount": 10, "labelOverlap": false}}}},
     {"transform": [{"filter": "datum.s == 'y'"}], "mark": {"type": "line", "color": "#cdc526", "strokeWidth": 1.6, "clip": true}, "encoding": {"y": {"field": "v", "type": "quantitative", "title": null}}},
     {"transform": [{"filter": "datum.s == 'r'"}], "mark": {"type": "line", "color": "#ff1c1c", "strokeWidth": 1.8, "clip": true}, "encoding": {"y": {"field": "v", "type": "quantitative", "title": null}}},
     {"data": {"name": "thr"}, "mark": {"type": "rule", "strokeDash": [2.5, 2], "strokeWidth": 1.6, "clip": true}, "encoding": {"color": {"field": "s", "type": "nominal", "scale": {"domain": ["g", "y", "r"], "range": ["#119411", "#d2c810", "#ff1010"]}, "legend": null}}}
    ]}
  ], "spacing": 37, "bounds": "flush"},
 {"hconcat": [
   {"width": 291, "height": 63, "view": {"stroke": null}, "data": {"values": [{"label": "-51 hours..."}]}, "mark": {"type": "text", "align": "right", "baseline": "middle", "fontSize": 15.5, "color": "#111"}, "encoding": {"text": {"field": "label"}, "x": {"value": "width"}}},
   {"width": 247, "height": 63, "data": {"name": "p5"},
    "encoding": {"x": {"field": "t", "type": "temporal", "title": null, "scale": {"type": "utc", "nice": false, "domain": [{"year": 2015, "month": 3, "date": 10, "hours": 0, "utc": true}, {"year": 2015, "month": 3, "date": 20, "hours": 0, "utc": true}]}, "axis": {"tickCount": 40, "labelExpr": "utchours(datum.value) == 12 && utcdate(datum.value) % 2 == 1 ? [utcFormat(datum.value, '%H%M UTC'), utcFormat(datum.value, '%A'), utcFormat(datum.value, '%d/%m/%y')] : ''"}}},
    "layer": [
     {"transform": [{"filter": "datum.s == 'g'"}], "mark": {"type": "line", "color": "#2b962b", "strokeWidth": 1.6, "clip": true}, "encoding": {"y": {"field": "v", "type": "quantitative", "title": null, "scale": {"domain": [0, 100], "nice": false}, "axis": {"values": [10, 20, 30, 40, 50, 60, 70, 80, 90, 100], "tickCount": 10, "labelOverlap": false}}}},
     {"transform": [{"filter": "datum.s == 'y'"}], "mark": {"type": "line", "color": "#cdc526", "strokeWidth": 1.6, "clip": true}, "encoding": {"y": {"field": "v", "type": "quantitative", "title": null}}},
     {"transform": [{"filter": "datum.s == 'r'"}], "mark": {"type": "line", "color": "#ff1c1c", "strokeWidth": 1.8, "clip": true}, "encoding": {"y": {"field": "v", "type": "quantitative", "title": null}}},
     {"data": {"name": "thr"}, "mark": {"type": "rule", "strokeDash": [2.5, 2], "strokeWidth": 1.6, "clip": true}, "encoding": {"color": {"field": "s", "type": "nominal", "scale": {"domain": ["g", "y", "r"], "range": ["#119411", "#d2c810", "#ff1010"]}, "legend": null}}}
    ]},
   {"width": 100, "height": 63, "view": {"stroke": null}, "data": {"values": [{"label": "-2 days"}]}, "mark": {"type": "text", "align": "right", "baseline": "middle", "fontSize": 17, "fontWeight": "bold", "dy": 11.5, "color": "#111"}, "encoding": {"text": {"field": "label"}, "x": {"value": "width"}}}
  ], "spacing": 37, "bounds": "flush"},
 {"hconcat": [
   {"width": 304, "height": 63, "view": {"stroke": null}, "data": {"values": [{"label": "-39 hours..."}]}, "mark": {"type": "text", "align": "right", "baseline": "middle", "fontSize": 15.5, "color": "#111"}, "encoding": {"text": {"field": "label"}, "x": {"value": "width"}}},
   {"width": 247, "height": 63, "data": {"name": "p6"},
    "encoding": {"x": {"field": "t", "type": "temporal", "title": null, "scale": {"type": "utc", "nice": false, "domain": [{"year": 2015, "month": 3, "date": 10, "hours": 12, "utc": true}, {"year": 2015, "month": 3, "date": 20, "hours": 12, "utc": true}]}, "axis": {"tickCount": 40, "labelExpr": "utchours(datum.value) == 12 && utcdate(datum.value) % 2 == 1 ? [utcFormat(datum.value, '%H%M UTC'), utcFormat(datum.value, '%A'), utcFormat(datum.value, '%d/%m/%y')] : ''"}}},
    "layer": [
     {"transform": [{"filter": "datum.s == 'g'"}], "mark": {"type": "line", "color": "#2b962b", "strokeWidth": 1.6, "clip": true}, "encoding": {"y": {"field": "v", "type": "quantitative", "title": null, "scale": {"domain": [0, 100], "nice": false}, "axis": {"values": [10, 20, 30, 40, 50, 60, 70, 80, 90, 100], "tickCount": 10, "labelOverlap": false}}}},
     {"transform": [{"filter": "datum.s == 'y'"}], "mark": {"type": "line", "color": "#cdc526", "strokeWidth": 1.6, "clip": true}, "encoding": {"y": {"field": "v", "type": "quantitative", "title": null}}},
     {"transform": [{"filter": "datum.s == 'r'"}], "mark": {"type": "line", "color": "#ff1c1c", "strokeWidth": 1.8, "clip": true}, "encoding": {"y": {"field": "v", "type": "quantitative", "title": null}}},
     {"data": {"name": "thr"}, "mark": {"type": "rule", "strokeDash": [2.5, 2], "strokeWidth": 1.6, "clip": true}, "encoding": {"color": {"field": "s", "type": "nominal", "scale": {"domain": ["g", "y", "r"], "range": ["#119411", "#d2c810", "#ff1010"]}, "legend": null}}}
    ]}
  ], "spacing": 37, "bounds": "flush"},
 {"hconcat": [
   {"width": 316, "height": 63, "view": {"stroke": null}, "data": {"values": [{"label": "-27 hours..."}]}, "mark": {"type": "text", "align": "right", "baseline": "middle", "fontSize": 15.5, "color": "#111"}, "encoding": {"text": {"field": "label"}, "x": {"value": "width"}}},
   {"width": 247, "height": 63, "data": {"name": "p7"},
    "encoding": {"x": {"field": "t", "type": "temporal", "title": null, "scale": {"type": "utc", "nice": false, "domain": [{"year": 2015, "month": 3, "date": 11, "hours": 0, "utc": true}, {"year": 2015, "month": 3, "date": 21, "hours": 0, "utc": true}]}, "axis": {"tickCount": 40, "labelExpr": "utchours(datum.value) == 12 && utcdate(datum.value) % 2 == 0 ? [utcFormat(datum.value, '%H%M UTC'), utcFormat(datum.value, '%A'), utcFormat(datum.value, '%d/%m/%y')] : ''"}}},
    "layer": [
     {"transform": [{"filter": "datum.s == 'g'"}], "mark": {"type": "line", "color": "#2b962b", "strokeWidth": 1.6, "clip": true}, "encoding": {"y": {"field": "v", "type": "quantitative", "title": null, "scale": {"domain": [0, 100], "nice": false}, "axis": {"values": [10, 20, 30, 40, 50, 60, 70, 80, 90, 100], "tickCount": 10, "labelOverlap": false}}}},
     {"transform": [{"filter": "datum.s == 'y'"}], "mark": {"type": "line", "color": "#cdc526", "strokeWidth": 1.6, "clip": true}, "encoding": {"y": {"field": "v", "type": "quantitative", "title": null}}},
     {"transform": [{"filter": "datum.s == 'r'"}], "mark": {"type": "line", "color": "#ff1c1c", "strokeWidth": 1.8, "clip": true}, "encoding": {"y": {"field": "v", "type": "quantitative", "title": null}}},
     {"data": {"name": "thr"}, "mark": {"type": "rule", "strokeDash": [2.5, 2], "strokeWidth": 1.6, "clip": true}, "encoding": {"color": {"field": "s", "type": "nominal", "scale": {"domain": ["g", "y", "r"], "range": ["#119411", "#d2c810", "#ff1010"]}, "legend": null}}}
    ]},
   {"width": 68, "height": 63, "view": {"stroke": null}, "data": {"values": [{"label": "-1 day"}]}, "mark": {"type": "text", "align": "right", "baseline": "middle", "fontSize": 17, "fontWeight": "bold", "dy": 20.5, "color": "#111"}, "encoding": {"text": {"field": "label"}, "x": {"value": "width"}}}
  ], "spacing": 37, "bounds": "flush"},
 {"hconcat": [
   {"width": 328, "height": 63, "view": {"stroke": null}, "data": {"values": [{"label": "-15 hours..."}]}, "mark": {"type": "text", "align": "right", "baseline": "middle", "fontSize": 15.5, "color": "#111"}, "encoding": {"text": {"field": "label"}, "x": {"value": "width"}}},
   {"width": 247, "height": 63, "data": {"name": "p8"},
    "encoding": {"x": {"field": "t", "type": "temporal", "title": null, "scale": {"type": "utc", "nice": false, "domain": [{"year": 2015, "month": 3, "date": 11, "hours": 12, "utc": true}, {"year": 2015, "month": 3, "date": 21, "hours": 12, "utc": true}]}, "axis": {"tickCount": 40, "labelExpr": "utchours(datum.value) == 12 && utcdate(datum.value) % 2 == 0 ? [utcFormat(datum.value, '%H%M UTC'), utcFormat(datum.value, '%A'), utcFormat(datum.value, '%d/%m/%y')] : ''"}}},
    "layer": [
     {"transform": [{"filter": "datum.s == 'g'"}], "mark": {"type": "line", "color": "#2b962b", "strokeWidth": 1.6, "clip": true}, "encoding": {"y": {"field": "v", "type": "quantitative", "title": null, "scale": {"domain": [0, 100], "nice": false}, "axis": {"values": [10, 20, 30, 40, 50, 60, 70, 80, 90, 100], "tickCount": 10, "labelOverlap": false}}}},
     {"transform": [{"filter": "datum.s == 'y'"}], "mark": {"type": "line", "color": "#cdc526", "strokeWidth": 1.6, "clip": true}, "encoding": {"y": {"field": "v", "type": "quantitative", "title": null}}},
     {"transform": [{"filter": "datum.s == 'r'"}], "mark": {"type": "line", "color": "#ff1c1c", "strokeWidth": 1.8, "clip": true}, "encoding": {"y": {"field": "v", "type": "quantitative", "title": null}}},
     {"data": {"name": "thr"}, "mark": {"type": "rule", "strokeDash": [2.5, 2], "strokeWidth": 1.6, "clip": true}, "encoding": {"color": {"field": "s", "type": "nominal", "scale": {"domain": ["g", "y", "r"], "range": ["#119411", "#d2c810", "#ff1010"]}, "legend": null}}}
    ]}
  ], "spacing": 37, "bounds": "flush"},
 {"hconcat": [
   {"width": 344, "height": 63, "view": {"stroke": null}, "data": {"values": [{"label": "-3 hours..."}]}, "mark": {"type": "text", "align": "right", "baseline": "middle", "fontSize": 15.5, "color": "#111"}, "encoding": {"text": {"field": "label"}, "x": {"value": "width"}}},
   {"width": 247, "height": 63, "data": {"name": "p9"},
    "encoding": {"x": {"field": "t", "type": "temporal", "title": null, "scale": {"type": "utc", "nice": false, "domain": [{"year": 2015, "month": 3, "date": 12, "hours": 0, "utc": true}, {"year": 2015, "month": 3, "date": 22, "hours": 0, "utc": true}]}, "axis": {"tickCount": 40, "labelExpr": "utchours(datum.value) == 12 && utcdate(datum.value) % 2 == 1 ? [utcFormat(datum.value, '%H%M UTC'), utcFormat(datum.value, '%A'), utcFormat(datum.value, '%d/%m/%y')] : ''"}}},
    "layer": [
     {"transform": [{"filter": "datum.s == 'g'"}], "mark": {"type": "line", "color": "#2b962b", "strokeWidth": 1.6, "clip": true}, "encoding": {"y": {"field": "v", "type": "quantitative", "title": null, "scale": {"domain": [0, 100], "nice": false}, "axis": {"values": [10, 20, 30, 40, 50, 60, 70, 80, 90, 100], "tickCount": 10, "labelOverlap": false}}}},
     {"transform": [{"filter": "datum.s == 'y'"}], "mark": {"type": "line", "color": "#cdc526", "strokeWidth": 1.6, "clip": true}, "encoding": {"y": {"field": "v", "type": "quantitative", "title": null}}},
     {"transform": [{"filter": "datum.s == 'r'"}], "mark": {"type": "line", "color": "#ff1c1c", "strokeWidth": 1.8, "clip": true}, "encoding": {"y": {"field": "v", "type": "quantitative", "title": null}}},
     {"data": {"name": "thr"}, "mark": {"type": "rule", "strokeDash": [2.5, 2], "strokeWidth": 1.6, "clip": true}, "encoding": {"color": {"field": "s", "type": "nominal", "scale": {"domain": ["g", "y", "r"], "range": ["#119411", "#d2c810", "#ff1010"]}, "legend": null}}}
    ]},
   {"width": 60, "height": 101, "view": {"stroke": null}, "data": {"values": [{"label": "6 m\nwaves\nobserved"}]}, "mark": {"type": "text", "align": "left", "baseline": "middle", "fontSize": 17, "fontWeight": "bold", "lineBreak": "\n", "lineHeight": 25.5, "dy": -31.5, "color": "#111"}, "encoding": {"text": {"field": "label"}, "x": {"value": 0}}}
  ], "spacing": 34, "bounds": "flush"},
 {"hconcat": [
   {"width": 62, "height": 69, "view": {"stroke": null}, "data": {"values": [{"label": ""}]}, "mark": {"type": "text"}, "encoding": {"text": {"field": "label"}}},
   {"width": 559, "height": 69,
    "layer": [
     {"data": {"name": "hl"}, "mark": {"type": "rule", "strokeDash": [7, 5], "strokeWidth": 1.3, "opacity": 0.5}, "encoding": {"y": {"field": "v", "type": "quantitative", "title": "Significant wave height (m)", "scale": {"domain": [0, 8], "nice": false}, "axis": {"values": [2, 4, 6, 8], "tickCount": 4, "labelOverlap": false, "titleFontSize": 5.2, "titleFontWeight": "normal", "titleColor": "#444", "titlePadding": 18}}, "color": {"field": "s", "type": "nominal", "scale": {"domain": ["g", "y", "r"], "range": ["#119411", "#d2c810", "#ff1010"]}, "legend": null}}},
     {"data": {"name": "thr"}, "mark": {"type": "rule", "strokeDash": [2.5, 2], "strokeWidth": 1.6, "clip": true}, "encoding": {"x": {"field": "t", "type": "temporal", "title": null, "scale": {"type": "utc", "nice": false, "domain": [{"year": 2015, "month": 3, "date": 2, "hours": 1, "utc": true}, {"year": 2015, "month": 3, "date": 22, "hours": 11, "utc": true}]}, "axis": {"tickCount": 82, "labelFontSize": 4.7, "labelLineHeight": 5.9, "labelPadding": 10, "labelExpr": "utchours(datum.value) == 12 && utcdate(datum.value) % 2 == 1 ? [utcFormat(datum.value, '%H%M UTC'), utcFormat(datum.value, '%A'), utcFormat(datum.value, '%d/%m/%y')] : ''"}}, "color": {"field": "s", "type": "nominal", "scale": {"domain": ["g", "y", "r"], "range": ["#119411", "#d2c810", "#ff1010"]}, "legend": null}}},
     {"data": {"name": "wave"}, "mark": {"type": "line", "color": "#1616ff", "strokeWidth": 1.8, "clip": true}, "encoding": {"x": {"field": "t", "type": "temporal", "title": null}, "y": {"field": "v", "type": "quantitative", "title": "Significant wave height (m)"}}}
    ]}
  ], "spacing": 37, "bounds": "flush"}
]
}
